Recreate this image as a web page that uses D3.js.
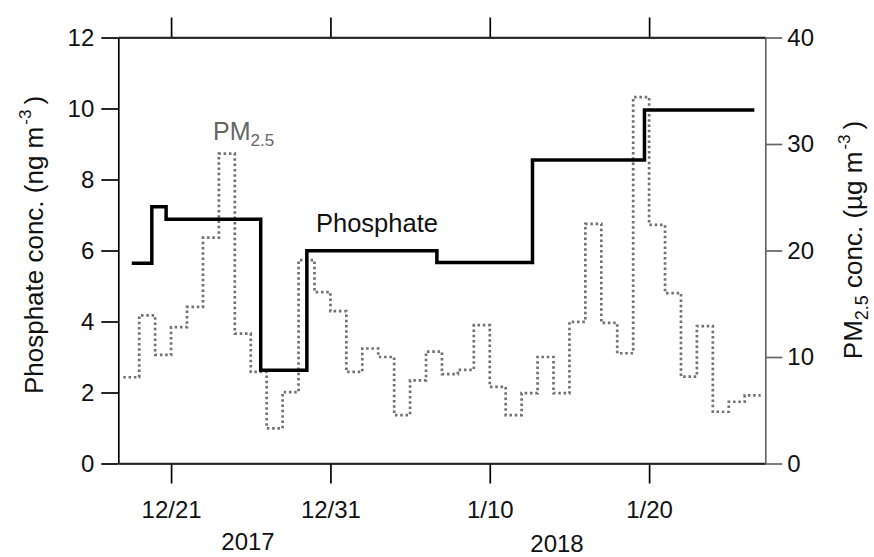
<!DOCTYPE html>
<html>
<head>
<meta charset="utf-8">
<script src="https://cdn.jsdelivr.net/npm/d3@7"></script>
<style>
  html, body { margin: 0; padding: 0; background: #fff; }
  svg { display: block; font-family: "Liberation Sans", Arial, Helvetica, sans-serif; }
</style>
</head>
<body>
<svg id="chart" width="874" height="557"></svg>
<script>
// ---- data ----
const phosphateStart = ["2017-12-18T12:45", "2017-12-19T19:00", "2017-12-20T16:30", "2017-12-26T15:00",
  "2017-12-29T12:30", "2018-01-06T16:20", "2018-01-12T16:20", "2018-01-19T17:00"];
const phosphateEnd = "2018-01-26T14:30";
const phosphateValue = [5.64, 7.23, 6.88, 2.63, 5.99, 5.66, 8.55, 9.96];

const pmDates = ["2017-12-18", "2017-12-19", "2017-12-20", "2017-12-21", "2017-12-22", "2017-12-23",
  "2017-12-24", "2017-12-25", "2017-12-26", "2017-12-27", "2017-12-28", "2017-12-29", "2017-12-30",
  "2017-12-31", "2018-01-01", "2018-01-02", "2018-01-03", "2018-01-04", "2018-01-05", "2018-01-06",
  "2018-01-07", "2018-01-08", "2018-01-09", "2018-01-10", "2018-01-11", "2018-01-12", "2018-01-13",
  "2018-01-14", "2018-01-15", "2018-01-16", "2018-01-17", "2018-01-18", "2018-01-19", "2018-01-20",
  "2018-01-21", "2018-01-22", "2018-01-23", "2018-01-24", "2018-01-25", "2018-01-26"];
const pmValue = [8.1, 13.9, 10.2, 12.8, 14.7, 21.2, 29.1, 12.2, 8.6, 3.3, 6.7, 19.1, 16.1, 14.3,
  8.6, 10.8, 10.0, 4.55, 7.8, 10.5, 8.4, 8.8, 13.0, 7.2, 4.55, 6.6, 10.0, 6.6, 13.3, 22.5,
  13.2, 10.35, 34.4, 22.4, 16.0, 8.15, 12.9, 4.86, 5.8, 6.4];

const xTickDates = ["2017-12-21", "2017-12-31", "2018-01-10", "2018-01-20"];
const xTickLabels = ["12/21", "12/31", "1/10", "1/20"];
const leftTicks = [0, 2, 4, 6, 8, 10, 12];
const rightTicks = [0, 10, 20, 30, 40];
const xDomain = ["2017-12-17T16:30", "2018-01-27T07:00"];

// ---- layout ----
const parse = s => new Date(s.length === 10 ? s + "T00:00" : s);
const L = 118.3, R = 765.3, T = 37.5, B = 463.5;
const svg = d3.select("#chart");

const x = d3.scaleTime().domain(xDomain.map(parse)).range([L, R]);
const yL = d3.scaleLinear().domain([0, 12]).range([B, T]);
const yR = d3.scaleLinear().domain([0, 40]).range([B, T]);

// axes
const tickFont = "24px";
const bottomAxis = d3.axisBottom(x).tickValues(xTickDates.map(parse))
  .tickFormat((d, i) => xTickLabels[i]).tickSizeInner(20).tickSizeOuter(0).tickPadding(17);
const gB = svg.append("g").attr("transform", `translate(0,${B})`).call(bottomAxis);
gB.selectAll("text").style("font-size", tickFont).attr("fill", "#111");

const topAxis = d3.axisTop(x).tickValues(xTickDates.map(parse))
  .tickFormat("").tickSizeInner(20).tickSizeOuter(0);
svg.append("g").attr("transform", `translate(0,${T})`).call(topAxis);

const leftAxis = d3.axisLeft(yL).tickValues(leftTicks).tickSizeInner(17).tickSizeOuter(0).tickPadding(7);
const gL = svg.append("g").attr("transform", `translate(${L},0)`).call(leftAxis);
gL.selectAll("text").style("font-size", tickFont).attr("fill", "#111");

const rightAxis = d3.axisRight(yR).tickValues(rightTicks).tickSizeInner(17).tickSizeOuter(0).tickPadding(5);
const gR = svg.append("g").attr("transform", `translate(${R},0)`).call(rightAxis);
gR.selectAll("text").style("font-size", tickFont).attr("fill", "#111");
gR.selectAll("line").attr("stroke", "#666");
gR.select(".domain").attr("stroke", "#666");

svg.selectAll(".domain").attr("stroke-width", 1.7);
svg.selectAll(".tick line").attr("stroke-width", 1.7);

// frame
svg.append("line").attr("x1", L).attr("x2", R).attr("y1", T).attr("y2", T).attr("stroke", "#222").attr("stroke-width", 1.7);
svg.append("line").attr("x1", L).attr("x2", R).attr("y1", B).attr("y2", B).attr("stroke", "#222").attr("stroke-width", 1.7);

// PM2.5 dotted step line
const pmPts = pmDates.map((d, i) => [parse(d), pmValue[i]]);
pmPts.push([d3.timeDay.offset(parse(pmDates[pmDates.length - 1]), 1), pmValue[pmValue.length - 1]]);
const pmLine = d3.line().x(d => x(d[0])).y(d => yR(d[1])).curve(d3.curveStepAfter);
svg.append("path").attr("d", pmLine(pmPts)).attr("fill", "none")
  .attr("stroke", "#707070").attr("stroke-width", 2.7).attr("stroke-dasharray", "2.5,2.8");

// Phosphate solid step line
const phPts = phosphateStart.map((d, i) => [parse(d), phosphateValue[i]]);
phPts.push([parse(phosphateEnd), phosphateValue[phosphateValue.length - 1]]);
const phLine = d3.line().x(d => x(d[0])).y(d => yL(d[1])).curve(d3.curveStepAfter);
svg.append("path").attr("d", phLine(phPts)).attr("fill", "none")
  .attr("stroke", "#000").attr("stroke-width", 3.5);

// annotations
const pmLab = svg.append("text").attr("x", 213).attr("y", 140).attr("fill", "#666").style("font-size", "25px");
pmLab.append("tspan").text("PM");
pmLab.append("tspan").attr("dy", 6).style("font-size", "17px").text("2.5");

svg.append("text").attr("x", 316).attr("y", 232).attr("fill", "#111").style("font-size", "25.5px").text("Phosphate");

// year labels
svg.append("text").attr("x", 248).attr("y", 550).attr("text-anchor", "middle").style("font-size", "24px").attr("fill", "#111").text("2017");
svg.append("text").attr("x", 557).attr("y", 552).attr("text-anchor", "middle").style("font-size", "24px").attr("fill", "#111").text("2018");

// axis titles
const lt = svg.append("text").attr("transform", "translate(43,245) rotate(-90)")
  .attr("text-anchor", "middle").style("font-size", "26px").attr("fill", "#111");
lt.append("tspan").text("Phosphate conc. (ng m");
lt.append("tspan").attr("dy", -12).attr("dx", 2).style("font-size", "17px").text("-3");
lt.append("tspan").attr("dy", 12).attr("dx", 5).text(")");

const rt = svg.append("text").attr("transform", "translate(862,240) rotate(-90)")
  .attr("text-anchor", "middle").style("font-size", "26px").attr("fill", "#111");
rt.append("tspan").text("PM");
rt.append("tspan").attr("dy", 6).style("font-size", "18px").text("2.5");
rt.append("tspan").attr("dy", -6).text(" conc. (µg m");
rt.append("tspan").attr("dy", -12).attr("dx", 2).style("font-size", "17px").text("-3");
rt.append("tspan").attr("dy", 12).attr("dx", 5).text(")");
</script>
</body>
</html>
